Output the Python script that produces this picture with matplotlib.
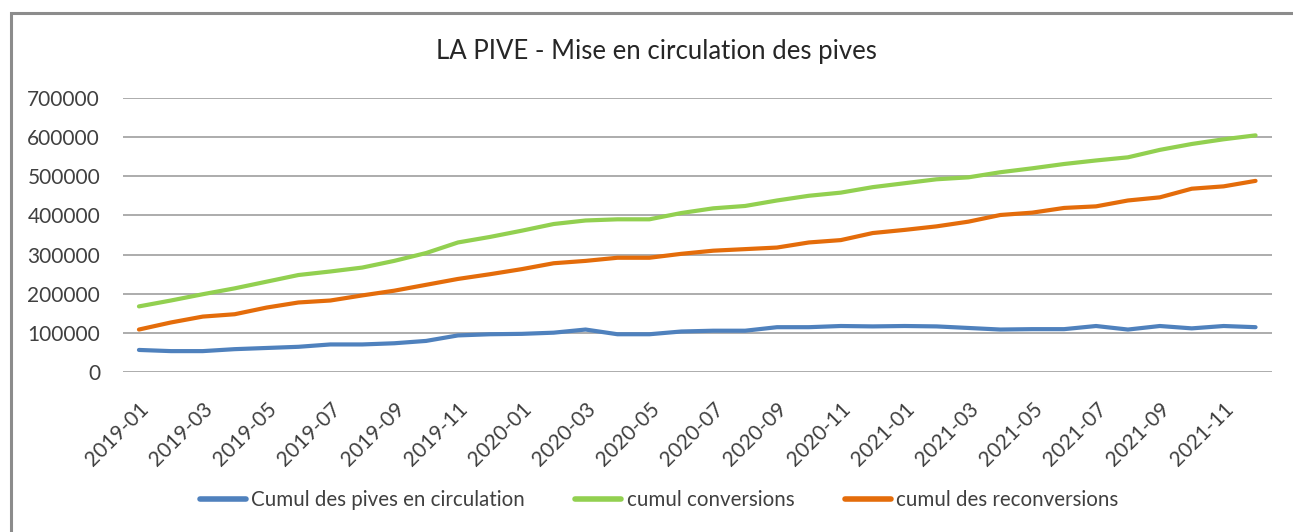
import matplotlib
matplotlib.use("Agg")
import matplotlib.pyplot as plt
from matplotlib.patches import Rectangle

months = [f"{y}-{m:02d}" for y in (2019, 2020, 2021) for m in range(1, 13)]

pives_circulation = [57000, 54000, 54000, 59000, 62000, 65000, 71000, 71000, 74000, 80000, 94000, 97000,
                     98000, 101000, 109000, 97000, 97000, 104000, 106000, 106000, 115000, 115000, 118000, 117000,
                     118000, 117000, 113000, 109000, 110000, 110000, 118000, 109000, 118000, 112000, 118000, 115000]
conversions = [168000, 183000, 199000, 214000, 231000, 248000, 257000, 267000, 284000, 304000, 331000, 345000,
               361000, 378000, 387000, 390000, 390000, 406000, 418000, 424000, 438000, 450000, 458000, 472000,
               482000, 492000, 497000, 510000, 520000, 531000, 540000, 548000, 567000, 582000, 594000, 604000]
reconversions = [109000, 127000, 142000, 148000, 165000, 178000, 183000, 196000, 208000, 223000, 238000, 250000,
                 263000, 278000, 284000, 292000, 292000, 302000, 310000, 314000, 318000, 331000, 337000, 355000,
                 363000, 372000, 384000, 401000, 407000, 419000, 423000, 438000, 446000, 468000, 474000, 488000]

series_names = ["Cumul des pives en circulation", "cumul conversions", "cumul des reconversions"]
title = "LA PIVE - Mise en circulation des pives"
yticks = [0, 100000, 200000, 300000, 400000, 500000, 600000, 700000]

plt.rcParams['font.family'] = ['Lato', 'DejaVu Sans']
txt = '#404040'

W, H = 1293, 532
fig = plt.figure(figsize=(W / 100, H / 100), dpi=100)
fig.patches.append(Rectangle((11 / W, -0.1), 1.2, 1 - 13 / H + 0.1, transform=fig.transFigure,
                             fill=False, edgecolor='#8c8c8c', linewidth=2.2, zorder=0))

ax = fig.add_axes([123 / W, 1 - 372.3 / H, (1271.5 - 123) / W, (372.3 - 97.7) / H])
x = list(range(len(months)))
ax.plot(x, pives_circulation, color='#4F81BD', lw=3.0, label=series_names[0], solid_capstyle='round')
ax.plot(x, conversions, color='#92D050', lw=3.0, label=series_names[1], solid_capstyle='round')
ax.plot(x, reconversions, color='#E46C0A', lw=3.0, label=series_names[2], solid_capstyle='round')

ax.set_xlim(-0.5, len(months) - 0.5)
ax.set_ylim(0, 700000)
ax.set_yticks(yticks)
ax.set_yticklabels([str(v) for v in yticks], fontsize=15, color=txt)
ax.yaxis.grid(True, color='#a6a6a6', lw=1.3)
ax.set_axisbelow(True)
ax.set_xticks(x[::2])
ax.set_xticklabels(months[::2], rotation=45, ha='right', rotation_mode='anchor', fontsize=15, color=txt)
ax.tick_params(axis='both', length=0)
ax.tick_params(axis='y', pad=16.5)
ax.tick_params(axis='x', pad=19)
for s in ax.spines.values():
    s.set_visible(False)

fig.text(656 / W, 1 - 51 / H, title, ha='center', va='center', fontsize=18.5, color='#262626')

leg = fig.legend(loc='center', bbox_to_anchor=(659 / W, 1 - 500 / H), ncol=3, frameon=False,
                 fontsize=14.8, handlelength=2.25, columnspacing=2.45, handletextpad=0.25)
for t in leg.get_texts():
    t.set_color(txt)
for l in leg.get_lines():
    l.set_linewidth(4)

fig.savefig("out.png", dpi=100, facecolor='white')
